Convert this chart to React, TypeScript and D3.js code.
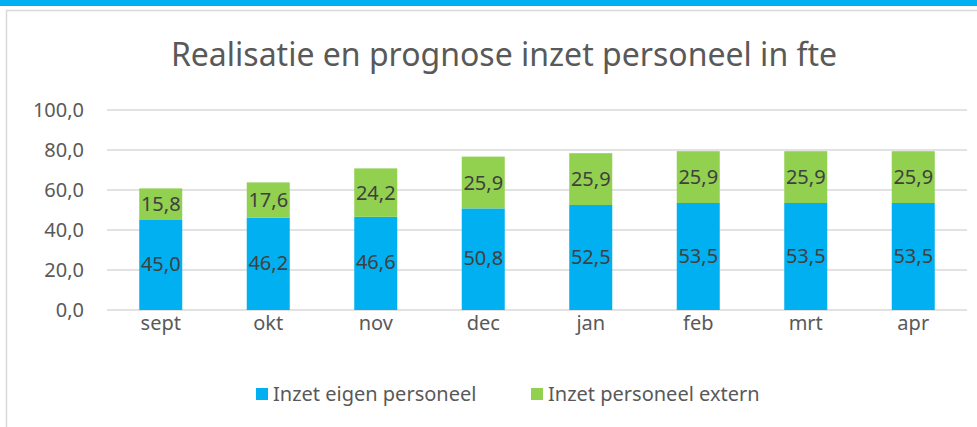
import * as React from 'react';
import * as d3 from 'd3';

const months = ['sept', 'okt', 'nov', 'dec', 'jan', 'feb', 'mrt', 'apr'];
const eigen = [45.0, 46.2, 46.6, 50.8, 52.5, 53.5, 53.5, 53.5];
const extern = [15.8, 17.6, 24.2, 25.9, 25.9, 25.9, 25.9, 25.9];
const yTicks = [0, 20, 40, 60, 80, 100];
const seriesNames = ['Inzet eigen personeel', 'Inzet personeel extern'];

const W = 977;
const H = 427;
const FONT = "'Noto Sans', 'Open Sans', sans-serif";
const BLUE = '#00B0F0';
const GREEN = '#92D050';

const App: React.FC = () => {
  const svgRef = React.useRef<SVGSVGElement>(null);

  React.useEffect(() => {
    const svg = d3.select(svgRef.current);
    svg.selectAll('*').remove();

    // top strip + chart frame
    svg.append('rect').attr('x', 0).attr('y', 0).attr('width', W).attr('height', 6).attr('fill', BLUE);
    svg.append('rect')
      .attr('x', 6.5).attr('y', 10.5).attr('width', W + 10).attr('height', H + 10)
      .attr('fill', '#fff').attr('stroke', '#d9d9d9').attr('stroke-width', 1.5);

    svg.append('text')
      .attr('x', 504).attr('y', 66)
      .attr('text-anchor', 'middle')
      .attr('font-family', FONT).attr('font-size', 32)
      .attr('fill', '#595959')
      .text('Realisatie en prognose inzet personeel in fte');

    const x = d3.scaleBand().domain(months).range([107, 967]).paddingInner(0.6).paddingOuter(0.3);
    const y = d3.scaleLinear().domain([0, 100]).range([310, 110]);
    const fmt = (v: number) => v.toFixed(1).replace('.', ',');

    const grid = svg.append('g');
    grid.selectAll('line').data(yTicks).enter().append('line')
      .attr('x1', 107).attr('x2', 967)
      .attr('y1', d => y(d)).attr('y2', d => y(d))
      .attr('stroke', '#d9d9d9').attr('stroke-width', 1.5);

    grid.selectAll('text').data(yTicks).enter().append('text')
      .attr('x', 84).attr('y', d => y(d) + 7)
      .attr('text-anchor', 'end')
      .attr('font-family', FONT).attr('font-size', 20)
      .attr('fill', '#595959')
      .text(d => fmt(d));

    const bars = svg.append('g').selectAll('g').data(months).enter().append('g');

    bars.append('rect')
      .attr('x', d => x(d)!)
      .attr('width', x.bandwidth())
      .attr('y', (d, i) => y(eigen[i]))
      .attr('height', (d, i) => y(0) - y(eigen[i]))
      .attr('fill', BLUE);

    bars.append('rect')
      .attr('x', d => x(d)!)
      .attr('width', x.bandwidth())
      .attr('y', (d, i) => y(eigen[i] + extern[i]))
      .attr('height', (d, i) => y(eigen[i]) - y(eigen[i] + extern[i]))
      .attr('fill', GREEN);

    bars.append('text')
      .attr('x', d => x(d)! + x.bandwidth() / 2)
      .attr('y', (d, i) => y(eigen[i] / 2) + 6)
      .attr('text-anchor', 'middle')
      .attr('font-family', FONT).attr('font-size', 20)
      .attr('fill', '#404040')
      .text((d, i) => fmt(eigen[i]));

    bars.append('text')
      .attr('x', d => x(d)! + x.bandwidth() / 2)
      .attr('y', (d, i) => y(eigen[i] + extern[i] / 2) + 7)
      .attr('text-anchor', 'middle')
      .attr('font-family', FONT).attr('font-size', 20)
      .attr('fill', '#404040')
      .text((d, i) => fmt(extern[i]));

    bars.append('text')
      .attr('x', d => x(d)! + x.bandwidth() / 2)
      .attr('y', 330)
      .attr('text-anchor', 'middle')
      .attr('font-family', FONT).attr('font-size', 20)
      .attr('fill', '#595959')
      .text(d => d);

    const legendX = [256, 531];
    const legend = svg.append('g').selectAll('g').data(seriesNames).enter().append('g');
    legend.append('rect')
      .attr('x', (d, i) => legendX[i]).attr('y', 388)
      .attr('width', 12).attr('height', 12)
      .attr('fill', (d, i) => (i === 0 ? BLUE : GREEN));
    legend.append('text')
      .attr('x', (d, i) => legendX[i] + 17).attr('y', 401)
      .attr('font-family', FONT).attr('font-size', 20)
      .attr('fill', '#595959')
      .text(d => d);
  }, []);

  return (
    <svg ref={svgRef} width={W} height={H}
      style={{ position: 'absolute', left: 0, top: 0, display: 'block', background: '#fff' }} />
  );
};

export default App;
